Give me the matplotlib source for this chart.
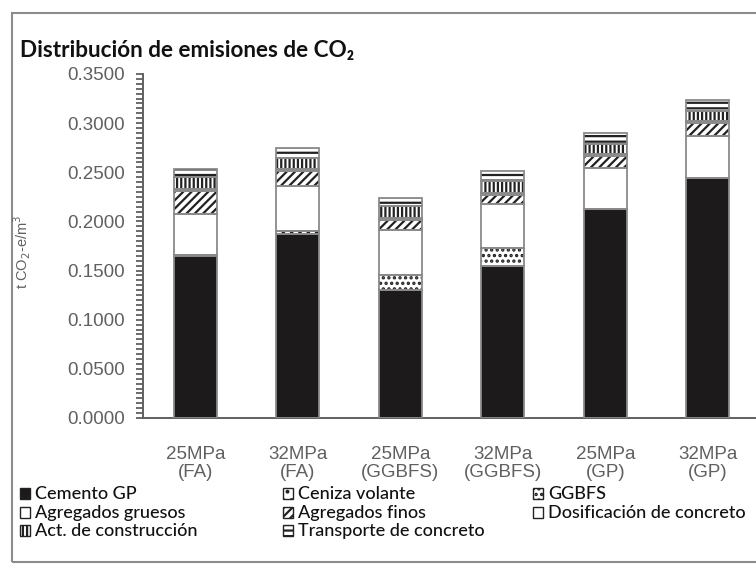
import matplotlib
matplotlib.use('Agg')
import matplotlib.pyplot as plt
from matplotlib.patches import Rectangle
from matplotlib.ticker import MultipleLocator, FormatStrFormatter
import numpy as np

# %%
# Data (t CO2-e/m3)

categories = ['25MPa\n(FA)', '32MPa\n(FA)', '25MPa\n(GGBFS)',
              '32MPa\n(GGBFS)', '25MPa\n(GP)', '32MPa\n(GP)']

cemento_gp = [0.1646, 0.1870, 0.1306, 0.1544, 0.2130, 0.2446]
ceniza_volante = [0.0010, 0.0030, 0.0, 0.0, 0.0, 0.0]
ggbfs = [0.0, 0.0, 0.0153, 0.0188, 0.0, 0.0]
agregados_gruesos = [0.0415, 0.0460, 0.0452, 0.0442, 0.0418, 0.0425]
agregados_finos = [0.0236, 0.0150, 0.0107, 0.0092, 0.0116, 0.0133]
dosificacion = [0.0020, 0.0020, 0.0020, 0.0020, 0.0020, 0.0020]
construccion = [0.0120, 0.0120, 0.0118, 0.0126, 0.0102, 0.0102]
transporte = [0.0090, 0.0095, 0.0086, 0.0102, 0.0112, 0.0109]

labels = ['Cemento GP', 'Ceniza volante', 'GGBFS', 'Agregados gruesos',
          'Agregados finos', 'Dosificación de concreto',
          'Act. de construcción', 'Transporte de concreto']
series = [cemento_gp, ceniza_volante, ggbfs, agregados_gruesos,
          agregados_finos, dosificacion, construccion, transporte]

# fill colour and hatch per component
styles = [('#1c1a1a', ''), ('white', '..'), ('white', '...'), ('white', ''),
          ('white', '////'), ('white', ''), ('white', '||||'), ('white', '---')]

# %%

plt.rcParams['hatch.linewidth'] = 1.6
grey = '#606060'
edge = '#8a8a8a'

W, H = 756, 566
fig = plt.figure(figsize=(W / 100, H / 100), dpi=100)

ax = fig.add_axes([143 / W, (H - 418) / H, (W - 143) / W, (418 - 74) / H])

x = np.arange(len(categories))
bottom = np.zeros(len(categories))
width = 0.42

for values, (fc, hatch) in zip(series, styles):
    values = np.array(values)
    ax.bar(x, values, width, bottom=bottom, color=fc, hatch=hatch,
           edgecolor='#222222', linewidth=0, zorder=2)
    ax.bar(x, values, width, bottom=bottom, fill=False,
           edgecolor=edge, linewidth=1.3, zorder=3)
    bottom += values

ax.set_xlim(-0.51, 5.47)
ax.set_ylim(0, 0.35)

ax.yaxis.set_major_locator(MultipleLocator(0.05))
ax.yaxis.set_minor_locator(MultipleLocator(0.005))
ax.yaxis.set_major_formatter(FormatStrFormatter('%.4f'))

ax.set_xticks(x)
ax.set_xticklabels(categories, linespacing=1.1)

for side in ['top', 'right']:
    ax.spines[side].set_visible(False)
for side in ['left', 'bottom']:
    ax.spines[side].set_color(grey)
    ax.spines[side].set_linewidth(1.4)

ax.tick_params(axis='y', which='both', direction='out', colors=grey,
               length=5, width=1.3, labelsize=13.5, pad=8)
ax.tick_params(axis='x', length=0, colors=grey, labelsize=13.5, pad=20)
for lab in ax.get_xticklabels() + ax.get_yticklabels():
    lab.set_family(['Liberation Sans', 'DejaVu Sans'])

fig.text(22 / W, 1 - 252 / H, r't CO$_2$-e/m$^3$', rotation=90,
         ha='center', va='center', fontsize=10.5, color=grey,
         family=['Liberation Sans', 'DejaVu Sans'])

fig.text(20 / W, 1 - 57 / H, 'Distribución de emisiones de CO₂',
         ha='left', va='baseline', fontsize=16.2, fontweight='bold',
         color='#111111', family=['Lato', 'DejaVu Sans'])

# legend laid out in three columns, as in the reference
col_x = [20, 283, 533]
row_y = [494, 513, 531]
for i, (lab, (fc, hatch)) in enumerate(zip(labels, styles)):
    cx = col_x[i % 3]
    cy = row_y[i // 3]
    fig.add_artist(Rectangle((cx / W, 1 - (cy + 5) / H), 10 / W, 11 / H,
                             transform=fig.transFigure, facecolor=fc,
                             hatch=hatch, edgecolor='#222222',
                             linewidth=1.0))
    fig.text((cx + 15) / W, 1 - cy / H, lab, ha='left', va='center',
             fontsize=13, color='#111111', fontweight='medium',
             family=['Lato', 'DejaVu Sans'])

# outer frame
fig.add_artist(Rectangle((12 / W, 1 - 562 / H), 760 / W, 549 / H,
                         transform=fig.transFigure, fill=False,
                         edgecolor='#8c8c8c', linewidth=1.5))

fig.savefig('out.png', dpi=100)
